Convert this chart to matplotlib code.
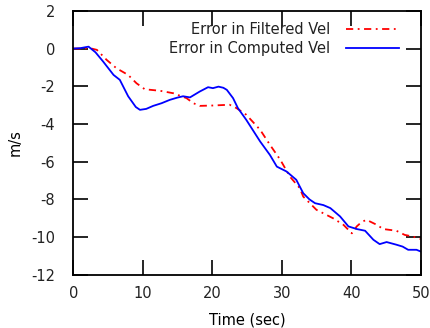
import numpy as np
import matplotlib.pyplot as plt

# error in computed velocity (m/s) vs time (sec)
t_comp = [0, 1.0, 2.2, 3.2, 4.3, 5.8, 6.7, 7.9, 9.0, 9.6, 10.5, 11.5, 12.7, 13.9,
          15.0, 15.8, 16.8, 18.2, 19.4, 20.1, 20.9, 21.6, 22.1, 23.0, 23.7, 24.9,
          26.9, 28.3, 29.3, 30.7, 32.1, 33.1, 34.0, 34.8, 36.0, 37.0, 38.4, 39.6,
          40.8, 42.0, 43.2, 44.1, 45.1, 46.5, 47.4, 48.2, 49.4, 50.0]
v_comp = [0.0, 0.02, 0.1, -0.2, -0.69, -1.4, -1.66, -2.53, -3.1, -3.25, -3.2, -3.04,
          -2.9, -2.72, -2.6, -2.53, -2.59, -2.28, -2.05, -2.1, -2.02, -2.08, -2.19,
          -2.63, -3.16, -3.78, -4.93, -5.64, -6.26, -6.52, -6.96, -7.67, -8.0, -8.2,
          -8.3, -8.46, -8.9, -9.43, -9.57, -9.66, -10.14, -10.37, -10.26, -10.4,
          -10.5, -10.67, -10.67, -10.76]

# error in filtered velocity
t_filt = [0, 1.2, 2.4, 3.4, 4.8, 6.2, 7.9, 9.1, 10.3, 12.5, 14.4, 16.3, 17.3, 18.2,
          20.1, 22.5, 23.5, 24.9, 26.9, 28.3, 29.8, 31.2, 32.6, 33.1, 35.0, 37.4,
          38.9, 40.1, 40.8, 41.5, 42.2, 43.7, 44.6, 46.5, 47.7, 48.9, 50.0]
v_filt = [0.0, 0.0, 0.02, -0.07, -0.6, -1.04, -1.4, -1.84, -2.16, -2.24, -2.37,
          -2.63, -2.9, -3.04, -3.02, -2.98, -3.16, -3.51, -4.31, -5.1, -5.9, -6.8,
          -7.4, -7.85, -8.55, -9.0, -9.35, -9.8, -9.43, -9.2, -9.08, -9.35, -9.57,
          -9.66, -9.88, -9.97, -10.1]

plt.rcParams['font.family'] = ['DejaVu Sans']
plt.rcParams['font.size'] = 10.5
plt.rcParams['axes.unicode_minus'] = False
plt.rcParams['text.color'] = '#222222'
plt.rcParams['xtick.labelcolor'] = '#222222'
plt.rcParams['ytick.labelcolor'] = '#222222'

fig = plt.figure(figsize=(4.31, 3.28), dpi=100)
ax = fig.add_axes([0.170, 0.162, 0.806, 0.805])

ax.plot(t_filt, v_filt, color='red', lw=1.3, linestyle=(0, (4, 2.5, 1, 2.5)),
        label='Error in Filtered Vel')
ax.plot(t_comp, v_comp, color='blue', lw=1.3, label='Error in Computed Vel')

ax.set_xlim(0, 50)
ax.set_ylim(-12, 2)
ax.set_xticks(np.arange(0, 51, 10))
ax.set_yticks(np.arange(-12, 3, 2))
ax.tick_params(axis='x', direction='in', length=11, width=1.2, top=True, pad=8)
ax.tick_params(axis='y', direction='in', length=11, width=1.2, right=True, pad=13)
for s in ax.spines.values():
    s.set_linewidth(1.3)

ax.set_xlabel('Time (sec)', labelpad=8)
ax.set_ylabel('m/s', labelpad=6)

ax.legend(loc='upper right', frameon=False, markerfirst=False, handlelength=3.6,
          borderaxespad=0.4, labelspacing=0.22, handletextpad=1.1,
          bbox_to_anchor=(0.97, 1.0))

fig.savefig('out.png', dpi=100)
